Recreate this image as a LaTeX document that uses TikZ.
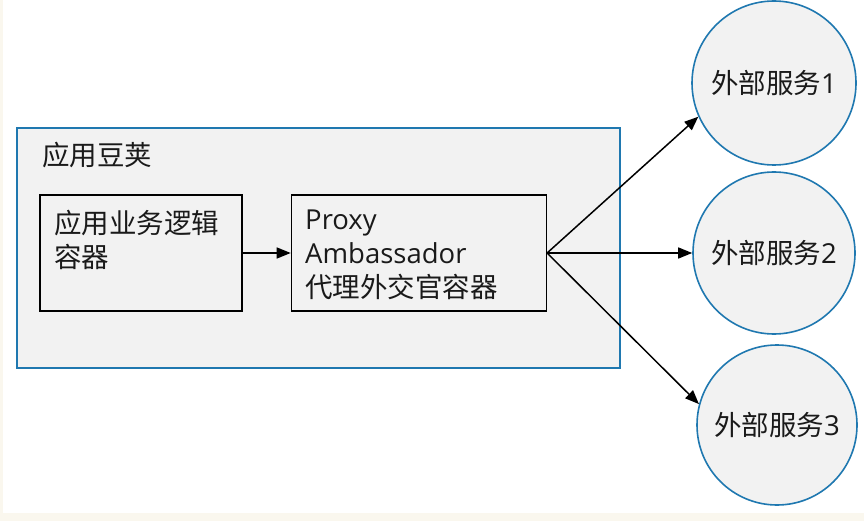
\documentclass[tikz,border=0pt]{standalone}
\usepackage{xcolor}
\usepackage{fontspec}
\setmainfont{Noto Sans CJK SC}
\newfontfamily\latinfont{Open Sans}
\usepackage{tikz}
\usetikzlibrary{positioning,arrows.meta}
\definecolor{podblue}{RGB}{31,120,176}
\definecolor{boxgray}{RGB}{242,242,242}
\definecolor{pagecream}{RGB}{250,247,238}
\definecolor{inkgray}{RGB}{26,26,26}
\tikzset{>={Triangle[length=14pt,width=11pt]}}
\tikzset{
  podbox/.style={draw=podblue, line width=1.8pt, fill=boxgray, inner sep=0pt},
  ctrbox/.style={draw=black, line width=1.4pt, fill=boxgray, inner sep=0pt},
  svcball/.style={circle, draw=podblue, line width=1.6pt, fill=boxgray, inner sep=0pt,
    text=inkgray, font=\fontsize{27.5}{34}\selectfont},
  txt/.style={text=inkgray, inner sep=0pt, align=left, font=\fontsize{27.5}{34}\selectfont},
}

\begin{document}
\begin{tikzpicture}[x=1pt,y=-1pt]

\fill[pagecream] (0,0) rectangle (864,521);
\fill[white] (3,0) rectangle (864,513);
\useasboundingbox (0,0) rectangle (864,521);

    \node[podbox, minimum width=603pt, minimum height=240pt, anchor=north west] (pod) at (16,127) {};
    \node[txt, anchor=west] (podlabel) at (42,155) {应用豆荚};

    \node[ctrbox, minimum width=202pt, minimum height=116pt] (logic) at (141,253) {};
    \node[ctrbox, minimum width=255pt, minimum height=116pt, right=48pt of logic] (proxy) {};
    \node[txt, anchor=west] (logictext) at (54,239.5) {应用业务逻辑\\容器};
    \node[txt, anchor=west] (proxytext) at (305,255) {{\latinfont Proxy}\\{\latinfont Ambassador}\\代理外交官容器};

    % external services
    \node[svcball, minimum size=164pt] (svc1) at (774,83) {外部服务{\latinfont 1}};
    \node[svcball, minimum size=162pt] (svc2) at (774,253) {外部服务{\latinfont 2}};
    \node[svcball, minimum size=160pt] (svc3) at (777,425) {外部服务{\latinfont 3}};

    \draw[line width=1.5pt, ->] (logic) -- (proxy);
    \draw[line width=1.5pt, ->] (proxy.east) -- (svc1.204);
    \draw[line width=1.5pt, ->] (proxy.east) -- (svc2);
    \draw[line width=1.5pt, ->] (proxy.east) -- (svc3.165);
    \end{tikzpicture}
\end{document}
